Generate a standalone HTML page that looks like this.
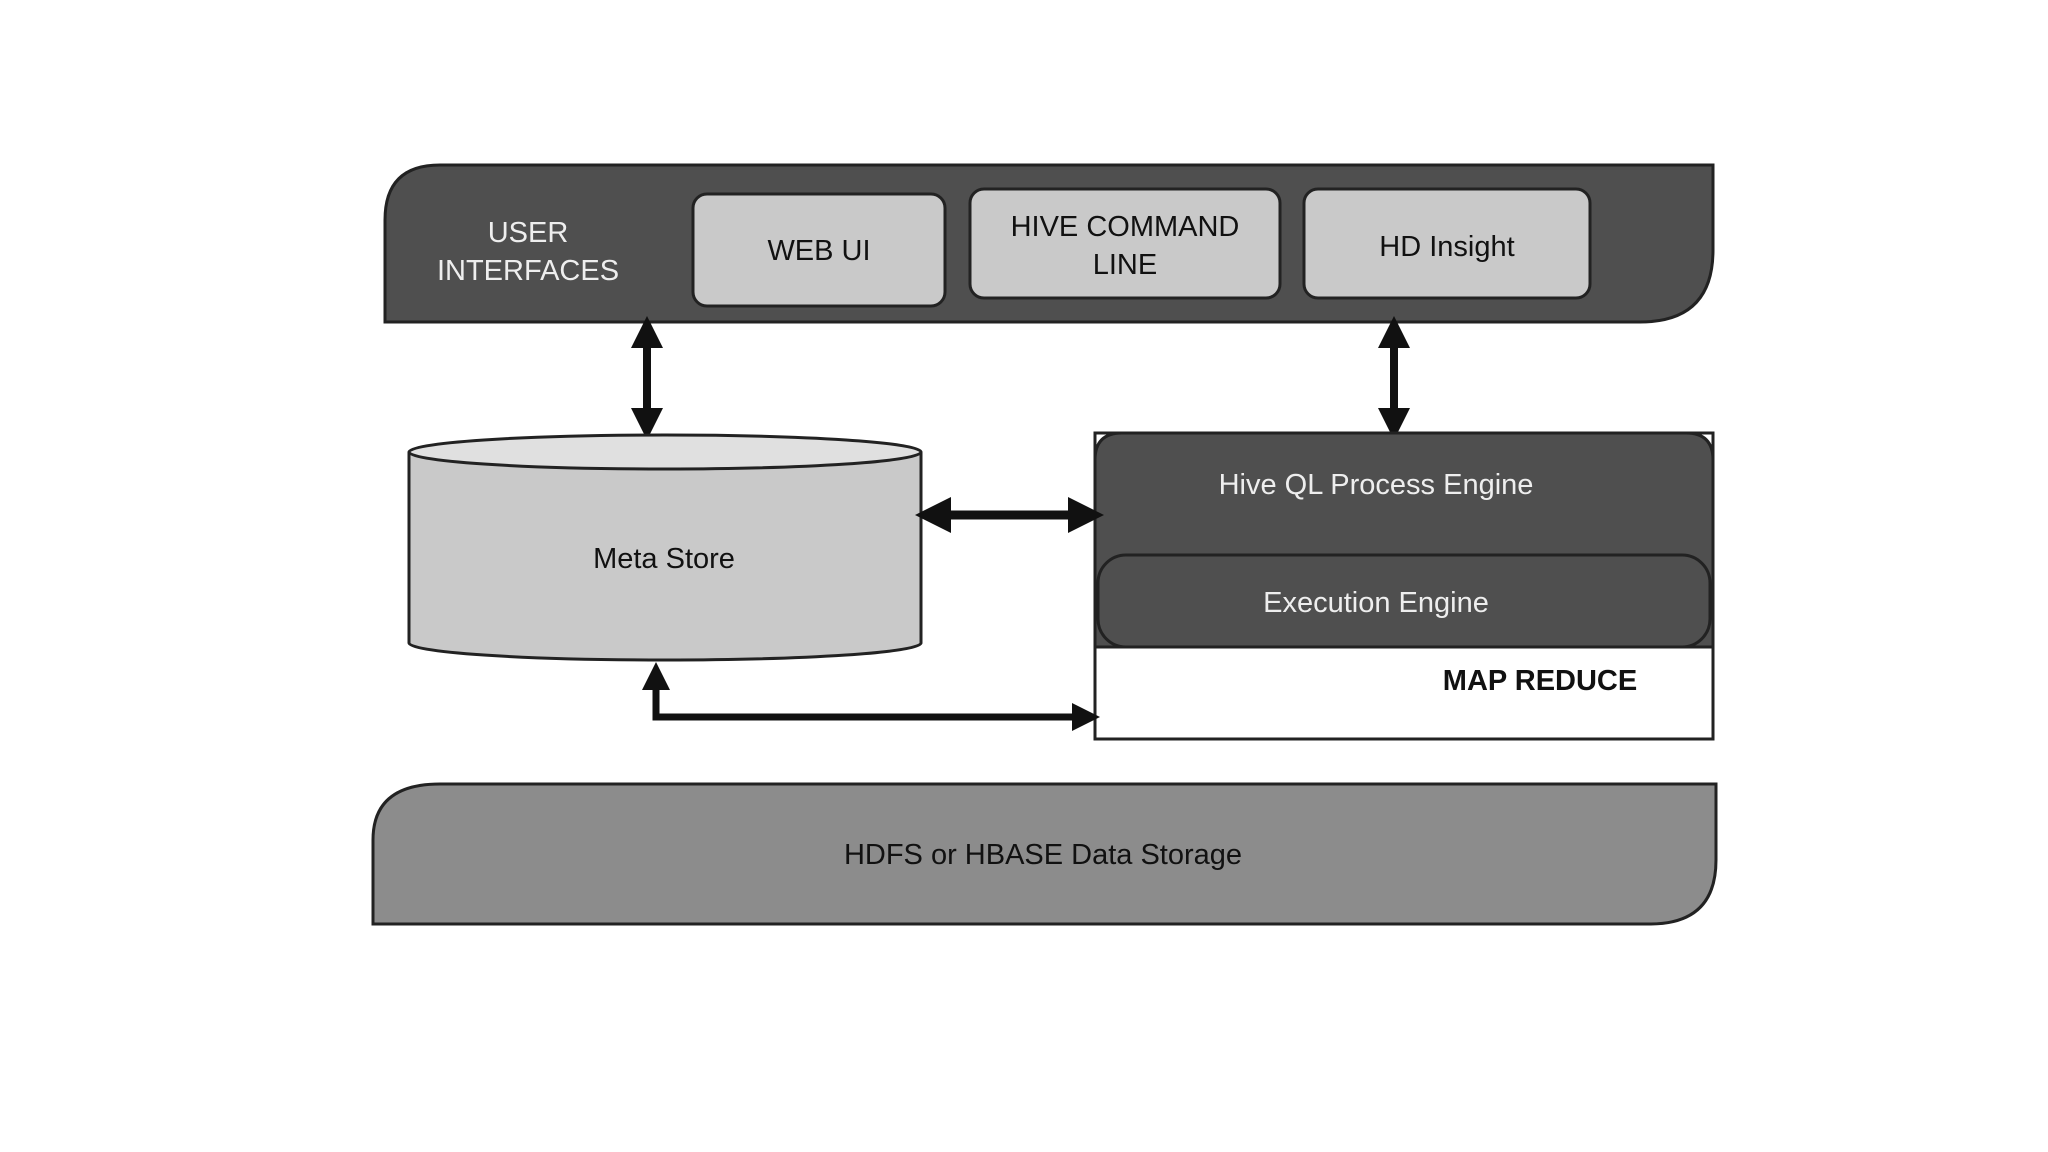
<!DOCTYPE html>
<html><head><meta charset="utf-8"><style>
html,body{margin:0;padding:0;background:#fff;}
svg{display:block}
text{font-family:"Liberation Sans",sans-serif;}
</style></head><body>
<svg width="2048" height="1152" viewBox="0 0 2048 1152" xmlns="http://www.w3.org/2000/svg">
<defs>
<marker id="ah" markerWidth="4" markerHeight="4" refX="2" refY="2" orient="auto-start-reverse" markerUnits="strokeWidth">
<path d="M0,0 L4,2 L0,4 z" fill="#111"/>
</marker>
</defs>
<!-- top bar -->
<path d="M440,165 H1713 V250 Q1713,322 1640,322 H385 V220 Q385,165 440,165 Z" fill="#4f4f4f" stroke="#222" stroke-width="3"/>
<text x="528" y="242" fill="#eee" font-size="29" text-anchor="middle">USER</text>
<text x="528" y="280" fill="#eee" font-size="29" text-anchor="middle">INTERFACES</text>
<rect x="693" y="194" width="252" height="112" rx="14" fill="#c9c9c9" stroke="#222" stroke-width="3"/>
<text x="819" y="260" font-size="29" text-anchor="middle" fill="#111">WEB UI</text>
<rect x="970" y="189" width="310" height="109" rx="14" fill="#c9c9c9" stroke="#222" stroke-width="3"/>
<text x="1125" y="236" font-size="29" text-anchor="middle" fill="#111">HIVE COMMAND</text>
<text x="1125" y="274" font-size="29" text-anchor="middle" fill="#111">LINE</text>
<rect x="1304" y="189" width="286" height="109" rx="14" fill="#c9c9c9" stroke="#222" stroke-width="3"/>
<text x="1447" y="256" font-size="29" text-anchor="middle" fill="#111">HD Insight</text>
<!-- vertical arrows -->
<line x1="647" y1="332" x2="647" y2="424" stroke="#111" stroke-width="8" marker-start="url(#ah)" marker-end="url(#ah)"/>
<line x1="1394" y1="332" x2="1394" y2="424" stroke="#111" stroke-width="8" marker-start="url(#ah)" marker-end="url(#ah)"/>
<!-- cylinder -->
<path d="M409,452 V643 A256,17 0 0 0 921,643 V452" fill="#c9c9c9" stroke="#222" stroke-width="3"/>
<ellipse cx="665" cy="452" rx="256" ry="17" fill="#e0e0e0" stroke="#222" stroke-width="3"/>
<text x="664" y="568" font-size="29" text-anchor="middle" fill="#111">Meta Store</text>
<!-- map reduce box -->
<rect x="1095" y="433" width="618" height="306" fill="#fff" stroke="#222" stroke-width="3"/>
<path d="M1095,647 V460 Q1095,433 1122,433 H1686 Q1713,433 1713,460 V647 Z" fill="#4f4f4f" stroke="#222" stroke-width="3"/>
<rect x="1098" y="555" width="612" height="92" rx="28" fill="#4f4f4f" stroke="#222" stroke-width="3"/>
<text x="1376" y="494" fill="#eee" font-size="29" text-anchor="middle">Hive QL Process Engine</text>
<text x="1376" y="612" fill="#eee" font-size="29" text-anchor="middle">Execution Engine</text>
<text x="1540" y="690" fill="#111" font-size="29" font-weight="bold" text-anchor="middle">MAP REDUCE</text>
<!-- horizontal arrow -->
<line x1="933" y1="515" x2="1086" y2="515" stroke="#111" stroke-width="9" marker-start="url(#ah)" marker-end="url(#ah)"/>
<!-- bottom elbow arrow -->
<polyline points="656,676 656,717 1086,717" fill="none" stroke="#111" stroke-width="7" marker-start="url(#ah)" marker-end="url(#ah)"/>
<!-- HDFS -->
<path d="M440,784 H1716 V860 Q1716,924 1650,924 H373 V840 Q373,784 440,784 Z" fill="#8c8c8c" stroke="#222" stroke-width="3"/>
<text x="1043" y="864" fill="#111" font-size="29" text-anchor="middle">HDFS or HBASE Data Storage</text>
</svg>
</body></html>
